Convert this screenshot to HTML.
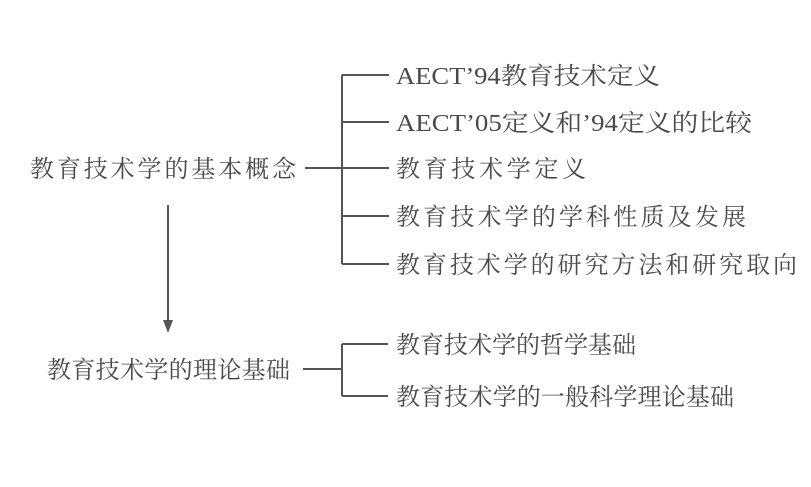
<!DOCTYPE html>
<html><head><meta charset="utf-8"><style>
html,body{margin:0;padding:0;background:#fff;}
svg{display:block;}
text{font-family:"Liberation Serif","Noto Serif CJK SC",serif;font-size:24px;fill:#4a4a4a;}
</style></head><body>
<svg width="811" height="487" viewBox="0 0 811 487" xmlns="http://www.w3.org/2000/svg">
<g stroke="#555" stroke-width="2" fill="none">
<line x1="342" y1="75" x2="342" y2="264"/>
<line x1="342" y1="75" x2="389" y2="75"/>
<line x1="342" y1="122" x2="389" y2="122"/>
<line x1="305" y1="168" x2="389" y2="168"/>
<line x1="342" y1="216" x2="389" y2="216"/>
<line x1="342" y1="264" x2="389" y2="264"/>
<line x1="168" y1="205" x2="168" y2="322"/>
<line x1="303" y1="369" x2="342" y2="369"/>
<line x1="342" y1="344" x2="342" y2="396"/>
<line x1="342" y1="344" x2="388" y2="344"/>
<line x1="342" y1="396" x2="388" y2="396"/>
</g>
<polygon points="163,320 173,320 168,333" fill="#555"/>
<text x="396" y="84" textLength="264" lengthAdjust="spacingAndGlyphs">AECT’94教育技术定义</text>
<text x="396" y="131" textLength="356" lengthAdjust="spacingAndGlyphs">AECT’05定义和’94定义的比较</text>
<text x="396" y="177" textLength="190" lengthAdjust="spacing">教育技术学定义</text>
<text x="396" y="225" textLength="350" lengthAdjust="spacing">教育技术学的学科性质及发展</text>
<text x="396" y="273" textLength="401" lengthAdjust="spacing">教育技术学的研究方法和研究取向</text>
<text x="30" y="177" textLength="266" lengthAdjust="spacing">教育技术学的基本概念</text>
<text x="47" y="378" textLength="243" lengthAdjust="spacing">教育技术学的理论基础</text>
<text x="396" y="353" textLength="240" lengthAdjust="spacing">教育技术学的哲学基础</text>
<text x="396" y="405" textLength="338" lengthAdjust="spacing">教育技术学的一般科学理论基础</text>
</svg>
</body></html>
